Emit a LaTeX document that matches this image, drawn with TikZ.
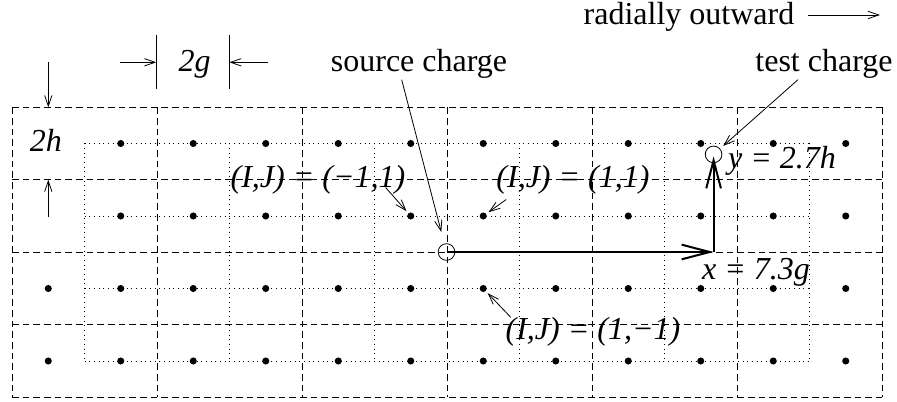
\documentclass[tikz,border=0pt]{standalone}
\usepackage{fontspec}
\setmainfont{Liberation Serif}
\usetikzlibrary{arrows.meta}

\begin{document}
\begin{tikzpicture}[
    x=0.75pt, y=-0.75pt,
    dashgrid/.style={line width=0.65pt, dash pattern=on 5pt off 3pt},
    dotgrid/.style={line width=0.6pt, dash pattern=on 0.6pt off 2.9pt},
    dot/.style={circle, fill, inner sep=0pt, minimum size=5.3pt},
    charge/.style={circle, draw, line width=0.6pt, inner sep=0pt, minimum size=12.5pt},
    lbl/.style={inner sep=0pt, anchor=base, font=\fontsize{24}{26}\selectfont},
    ilbl/.style={lbl, font=\fontsize{24}{26}\selectfont\itshape},
    pointer/.style={line width=0.6pt, -{Straight Barb[length=8pt,width=5.5pt]}},
    move/.style={line width=1.5pt, -{Straight Barb[length=21pt,width=11pt]}}
  ]
  \useasboundingbox (0,0) rectangle (897,402);
  % dashed cells
  \foreach \i in {0,...,6}
    \draw[dashgrid] ({12+145*\i},107.3) -- ({12+145*\i},397.3);
  \foreach \j in {0,...,4}
    \draw[dashgrid] (12,{107.3+72.5*\j}) -- (882,{107.3+72.5*\j});
  % dotted cells
  \foreach \i in {0,...,5}
    \draw[dotgrid] ({84.5+145*\i},143.5) -- ({84.5+145*\i},361);
  \foreach \j in {0,...,3}
    \draw[dotgrid] (84.5,{143.5+72.5*\j}) -- (809.5,{143.5+72.5*\j});
  % lattice charges
  \foreach \r/\s in {1/1,2/1,3/0,4/0}
    \foreach \k in {\s,...,11}
      \node[dot] (d\k-\r) at ({48.25+72.5*\k},{143.5+72.5*(\r-1)}) {};

  \node[charge] (src) at (446.5,252) {};
  \node[charge] (tst) at (713.6,154.4) {};
  \coordinate (corner) at (713.6,252);
  \draw[move] (src.center) -- (corner);
  \draw[move, shorten >=1.5pt] (corner) -- (tst.center);

  \node[lbl] (radial) at (689,25) {radially outward};
  \coordinate (radtail) at (808,15);
  \coordinate (radtip) at (880,15);
  \draw[pointer] (radtail) -- (radtip);

  \node[lbl] (srclbl) at (419,71.7) {source charge};
  \draw[pointer, shorten >=9pt] ([xshift=-13pt,yshift=-6pt]srclbl.base) -- (src);
  \node[lbl] (tstlbl) at (824,71.7) {test charge};
  \draw[pointer, shorten >=3pt] ([xshift=-19.5pt,yshift=-6pt]tstlbl.base) -- (tst);

  % cell sizes
  \node[ilbl] (gsize) at (194.5,71.7) {2g};
  \coordinate (gL) at (156.3,62.3);
  \coordinate (gR) at (229.3,62.3);
  \coordinate (gLtail) at (120,62.3);
  \coordinate (gRtail) at (267.7,62.3);
  \draw[line width=0.6pt] ([yshift=20.4pt]gL) -- ([yshift=-20.4pt]gL)
    ([yshift=20.4pt]gR) -- ([yshift=-20.4pt]gR);
  \draw[pointer] (gLtail) -- (gL);
  \draw[pointer] (gRtail) -- (gR);

  \node[ilbl] (hsize) at (46,151.7) {2h};
  \coordinate (hT) at (48.3,107.3);
  \coordinate (hB) at (48.3,179.8);
  \coordinate (hTtail) at (48.3,62);
  \coordinate (hBtail) at (48.3,216.7);
  \draw[pointer] (hTtail) -- (hT);
  \draw[pointer] (hBtail) -- (hB);

  % index labels
  \node[ilbl] (ijA) at (318,187.5) {(I,J) = (−1,1)};
  \draw[pointer, shorten >=2pt] ([xshift=-15pt]ijA.base east) -- (d5-2);
  \node[ilbl] (ijB) at (573,187.5) {(I,J) = (1,1)};
  \draw[pointer, shorten >=2pt] ([xshift=7.5pt,yshift=-9pt]ijB.base west) -- (d6-2);
  \node[ilbl] (ijC) at (593,340) {(I,J) = (1,−1)};
  \draw[pointer, shorten >=2pt] ([xshift=4pt,yshift=17pt]ijC.base west) -- (d6-3);

  % displacement
  \node[ilbl] (ylbl) at (782,168.3) {y = 2.7h};
  \node[ilbl] (xlbl) at (756,279.5) {x = 7.3g};
\end{tikzpicture}
\end{document}
